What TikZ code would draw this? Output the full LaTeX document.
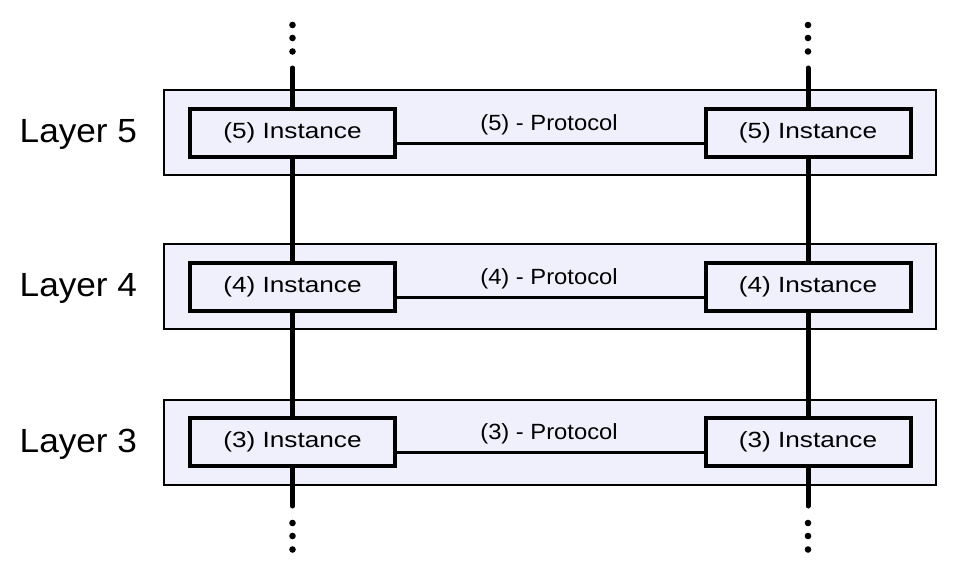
\documentclass[tikz,border=0pt]{standalone}
\usepackage{fontspec}
\setmainfont{Liberation Sans}
\newfontfamily\instfont[FakeStretch=1.19]{Liberation Sans}
\newfontfamily\protfont[FakeStretch=1.08]{Liberation Sans}
\newfontfamily\layerfont[FakeStretch=1.05]{Liberation Sans}
\definecolor{layerfill}{RGB}{240,240,252}
\tikzset{
  layerbox/.style={draw, line width=2pt, fill=layerfill, minimum width=772pt, minimum height=85pt, inner sep=0pt},
  instbox/.style={draw, line width=4pt, fill=layerfill, minimum width=205pt, minimum height=48pt, inner sep=0pt, font=\instfont\fontsize{22}{26}\selectfont},
  stackline/.style={line width=5pt, line cap=round},
  protoline/.style={line width=3pt},
  protolabel/.style={anchor=base, inner sep=0pt, font=\protfont\fontsize{22}{26}\selectfont},
  layerlabel/.style={anchor=base west, inner sep=0pt, font=\layerfont\fontsize{33.5}{38}\selectfont},
}
\begin{document}
\begin{tikzpicture}[x=1pt, y=-1pt]
      \useasboundingbox (0,0) rectangle (960,576);
      \draw
        (550,132.5) node[layerbox] (l5){}
        (550,286.5) node[layerbox] (l4){}
        (550,442.5) node[layerbox] (l3){};
      \draw
        (19.5,142) node[layerlabel] (lab5){Layer 5}
        (19.5,296) node[layerlabel] (lab4){Layer 4}
        (19.5,452) node[layerlabel] (lab3){Layer 3};
      \draw
        (292.5,133) node[instbox] (i5l){(5) Instance}
        (292.5,287) node[instbox] (i4l){(4) Instance}
        (292.5,442) node[instbox] (i3l){(3) Instance}
        (808,133) node[instbox] (i5r){(5) Instance}
        (808,287) node[instbox] (i4r){(4) Instance}
        (808,442) node[instbox] (i3r){(3) Instance};
      \coordinate (topl) at (292.5,68);
      \coordinate (botl) at (292.5,506);
      \coordinate (topr) at (808,68);
      \coordinate (botr) at (808,506);
      \begin{scope}[stackline]
        \draw (topl) -- (i5l) -- (i4l) -- (i3l) -- (botl);
        \draw (topr) -- (i5r) -- (i4r) -- (i3r) -- (botr);
      \end{scope}
      \begin{scope}[protoline]
        \draw ([yshift=-10.5pt]i5l.east) -- ([yshift=-10.5pt]i5r.west);
        \draw ([yshift=-10.5pt]i4l.east) -- ([yshift=-10.5pt]i4r.west);
        \draw ([yshift=-10.5pt]i3l.east) -- ([yshift=-10.5pt]i3r.west);
      \end{scope}
      \draw
        (549,130) node[protolabel] (p5){(5) - Protocol}
        (549,284) node[protolabel] (p4){(4) - Protocol}
        (549,439) node[protolabel] (p3){(3) - Protocol};
      \foreach \x in {292.5,808}{
        \foreach \y in {25,38,51.5,523,536,549.5}
          \fill (\x,\y) circle (3.3pt);
      }
    \end{tikzpicture}
\end{document}
